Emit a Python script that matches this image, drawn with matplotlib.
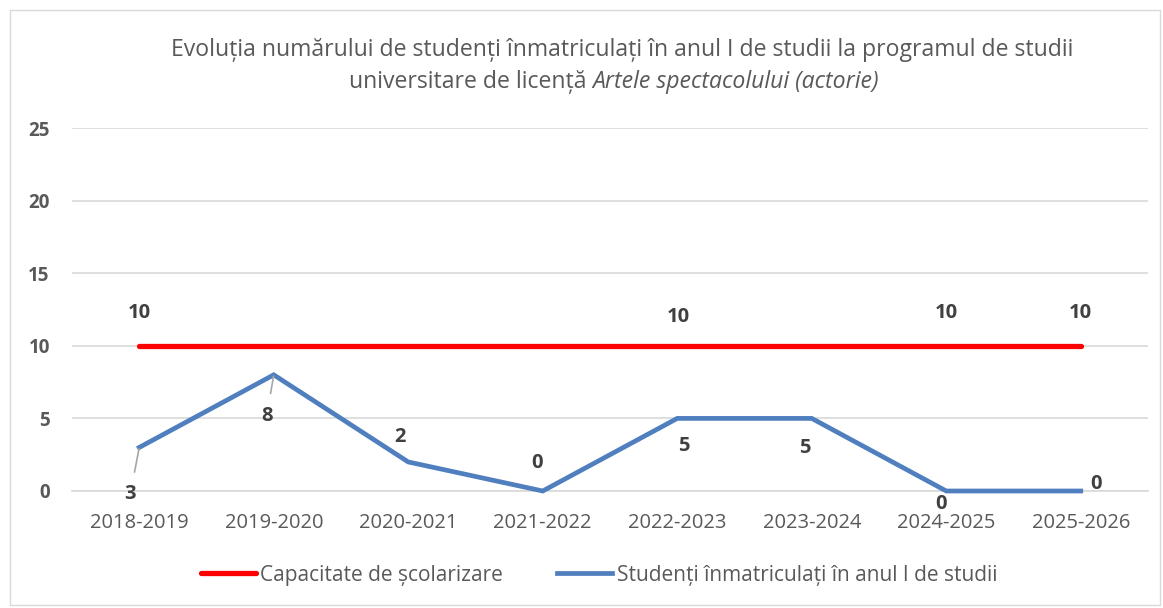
import matplotlib.pyplot as plt
from matplotlib.patches import Rectangle

plt.rcParams["font.family"] = ["Open Sans", "DejaVu Sans"]

# Data
years = ["2018-2019", "2019-2020", "2020-2021", "2021-2022",
         "2022-2023", "2023-2024", "2024-2025", "2025-2026"]
capacity = [10, 10, 10, 10, 10, 10, 10, 10]
enrolled = [3, 8, 2, 0, 5, 5, 0, 0]

# label placement (pixel offsets from the point), None = no label
cap_offsets = [(0, 33), None, None, None, (1, 29), None, (0, 33), (0, 33)]
enr_offsets = [(-9, -47), (-7, -41), (-8, 25), (-6, 28),
               (7, -28), (-7, -30), (-5, -13), (15, 7)]
leader_idx = [0, 1]

RED = "#FF0000"
BLUE = "#4F7FBF"
GREY_TXT = "#595959"

fig = plt.figure(figsize=(11.63, 6.08), dpi=100)
ax = fig.add_axes([72 / 1163, 1 - 491 / 608, (1148 - 72) / 1163, (491 - 128) / 608])

x = list(range(len(years)))
ax.plot(x, capacity, color=RED, lw=3.8, solid_capstyle="round",
        label="Capacitate de școlarizare", clip_on=False, zorder=3)
ax.plot(x, enrolled, color=BLUE, lw=3.4, solid_joinstyle="miter",
        label="Studenți înmatriculați în anul I de studii", clip_on=False, zorder=3)

for i, off in enumerate(cap_offsets):
    if off is None:
        continue
    ax.annotate(str(capacity[i]), (x[i], capacity[i]), xytext=off,
                textcoords="offset pixels", ha="center", va="center",
                fontsize=14.5, fontweight="bold", color="#404040")

for i, off in enumerate(enr_offsets):
    arrow = None
    if i in leader_idx:
        arrow = dict(arrowstyle="-", color="#a6a6a6", lw=1.2, shrinkA=7, shrinkB=1)
    ax.annotate(str(enrolled[i]), (x[i], enrolled[i]), xytext=off,
                textcoords="offset pixels", ha="center", va="center",
                fontsize=14.5, fontweight="bold", color="#404040",
                arrowprops=arrow)

ax.set_xlim(-0.5, len(years) - 0.5)
ax.set_ylim(0, 25)
ax.set_yticks([0, 5, 10, 15, 20, 25])
ax.set_xticks(x)
ax.set_xticklabels(years, fontsize=14.5, color=GREY_TXT)
for lab in ax.get_yticklabels():
    lab.set_fontsize(13.5)
    lab.set_fontweight("bold")
    lab.set_color(GREY_TXT)
ax.tick_params(axis="both", length=0)
ax.tick_params(axis="y", pad=16)
ax.tick_params(axis="x", pad=16)
ax.grid(axis="y", color="#d9d9d9", lw=1.2)
ax.set_axisbelow(True)
for s in ["top", "right", "left"]:
    ax.spines[s].set_visible(False)
ax.spines["bottom"].set_color("#d9d9d9")
ax.spines["bottom"].set_linewidth(1.2)

# title: first line plain, second line plain + italic part
title_kw = dict(fontsize=16.6, color=GREY_TXT, va="center")
fig.text(622 / 1163, 1 - 50 / 608,
         "Evoluția numărului de studenți înmatriculați în anul I de studii la programul de studii",
         ha="center", **title_kw)
renderer = fig.canvas.get_renderer()
part1 = fig.text(0, 1 - 82 / 608, "universitare de licență ", ha="left", **title_kw)
part2 = fig.text(0, 1 - 82 / 608, "Artele spectacolului (actorie)", ha="left",
                 style="italic", **title_kw)
w1 = part1.get_window_extent(renderer).width
w2 = part2.get_window_extent(renderer).width
x0 = 614 - (w1 + w2) / 2
part1.set_x(x0 / 1163)
part2.set_x((x0 + w1) / 1163)

fig.legend(loc="center", bbox_to_anchor=(599 / 1163, 1 - 575 / 608), ncol=2,
           frameon=False, fontsize=15, handlelength=2.65, columnspacing=2.6,
           handletextpad=0.2, labelcolor=GREY_TXT)

fig.patches.append(Rectangle((10 / 1163, 3 / 608), 1150 / 1163, 595 / 608,
                             transform=fig.transFigure, fill=False,
                             edgecolor="#d9d9d9", lw=1))

fig.savefig("out.png", dpi=100)
